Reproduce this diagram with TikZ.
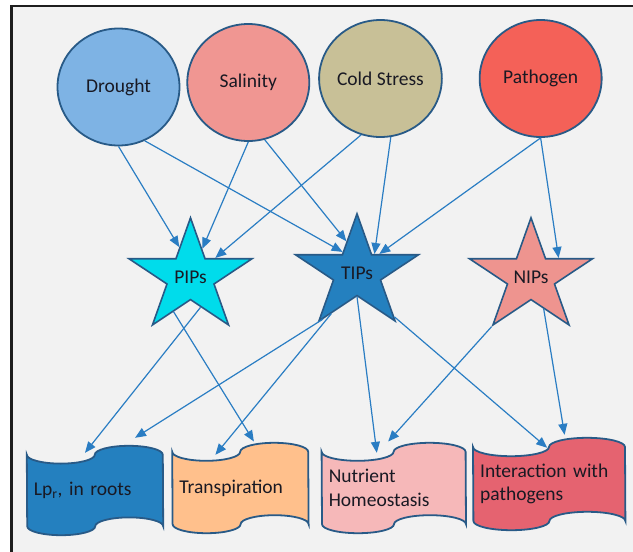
\documentclass[tikz,border=0pt]{standalone}
\usepackage{fontspec}
\setmainfont{Carlito}
\usepackage{tikz}
\usetikzlibrary{shapes.geometric, arrows.meta, positioning, calc, backgrounds}
\definecolor{edgeblue}{RGB}{40,90,135}
\definecolor{arrowblue}{RGB}{42,125,195}
\definecolor{textdark}{RGB}{25,25,35}
\definecolor{bggray}{RGB}{242,242,242}
\definecolor{framedark}{RGB}{30,30,30}
\definecolor{droughtfill}{RGB}{126,179,228}
\definecolor{salinityfill}{RGB}{240,150,146}
\definecolor{coldfill}{RGB}{200,192,151}
\definecolor{pathogenfill}{RGB}{244,97,88}
\definecolor{pipfill}{RGB}{0,220,235}
\definecolor{tipfill}{RGB}{36,128,191}
\definecolor{nipfill}{RGB}{238,148,143}
\definecolor{lpfill}{RGB}{36,128,191}
\definecolor{transfill}{RGB}{255,192,140}
\definecolor{nutrfill}{RGB}{246,184,185}
\definecolor{interfill}{RGB}{229,99,112}
\tikzset{
  stress/.style={ellipse, draw=edgeblue, line width=1.8pt,
    minimum width=122pt, minimum height=117pt, inner sep=0pt,
    font=\fontsize{19.5}{23.8}\selectfont, text=textdark},
  aqp/.style={star, star points=5, star point ratio=2.618,
    minimum size=129.4pt, inner sep=0pt, draw=edgeblue, line width=1.6pt,
    yscale=0.915, transform shape},
  aqptext/.style={font=\fontsize{19.5}{23.8}\selectfont, text=textdark, inner sep=0pt},
  tape/.style={rectangle, inner xsep=7pt, inner ysep=0pt, align=left,
    font=\fontsize{19.5}{23.8}\selectfont, text=textdark},
  tapeline/.style={draw=edgeblue, line width=1.8pt},
  frameline/.style={draw=framedark, line width=2.4pt},
  arrow/.style={-{Triangle[length=11pt, width=9pt]}, line width=1.2pt, color=arrowblue}
}
% punched-tape outline behind a tape node: #1 node, #2 fill, #3 quarter width, #4 wave height
\newcommand{\tapeshape}[4]{%
  \draw[tapeline, fill=#2] ([yshift=-#4pt]#1.north west)
    arc[start angle=180, end angle=360, x radius=#3pt, y radius=#4pt]
    arc[start angle=180, end angle=0, x radius=#3pt, y radius=#4pt]
    -- ([yshift=#4pt]#1.south east)
    arc[start angle=0, end angle=180, x radius=#3pt, y radius=#4pt]
    arc[start angle=0, end angle=-180, x radius=#3pt, y radius=#4pt]
    -- cycle;}

\begin{document}
\begin{tikzpicture}[x=1pt, y=1pt]
  \useasboundingbox (0,0) rectangle (633,-552);
  % stress factors -- top row of circles
  \node[stress, fill=droughtfill] (drought) at (118.5,-87) {Drought};
  \node[stress, fill=salinityfill, right=6pt of drought, yshift=4.5pt] (salinity) {Salinity};
  \node[stress, fill=coldfill, right=8pt of salinity, yshift=4pt] (cold) {Cold Stress};
  \node[stress, fill=pathogenfill, right=36pt of cold] (pathogen) {Pathogen};
  % aquaporin families -- middle row of stars
  \node[aqp, fill=pipfill, label={[aqptext]center:PIPs}] (pips) at (190.5,-277) {};
  \node[aqp, fill=tipfill, label={[aqptext]center:TIPs}] (tips) at (357,-273) {};
  \node[aqp, fill=nipfill, label={[aqptext]center:NIPs}] (nips) at (531,-277) {};
  % functions -- bottom row of tapes
  \node[tape, text width=122pt, minimum height=89pt] (lp) at (95,-490.5) {Lp\textsubscript{r}, in roots};
  \node[tape, text width=122pt, minimum height=90pt, right=9pt of lp, yshift=2.5pt] (trans) {Transpiration};
  \node[tape, text width=130pt, minimum height=90pt, right=13pt of trans] (nutr) {Nutrient\\Homeostasis};
  \node[tape, text width=138pt, minimum height=92pt, right=7pt of nutr, yshift=4pt] (inter) {Interaction with\\pathogens};
  \begin{scope}[on background layer]
    % panel with frame on two sides
    \fill[white] (0,0) rectangle (633,-552);
    \fill[bggray] (11.3,-6.2) rectangle (633,-552);
    \draw[frameline] (11.3,-552) |- (633,-6.2);
    \tapeshape{lp}{lpfill}{34}{8.9}
    \tapeshape{trans}{transfill}{34}{9}
    \tapeshape{nutr}{nutrfill}{36}{9}
    \tapeshape{inter}{interfill}{38}{9.2}
  \end{scope}
  % stress -> aquaporins
  \draw[arrow] (drought.270) -- (pips.109);
  \draw[arrow] (drought.296) -- (tips.122);
  \draw[arrow] (salinity.270) -- (pips.69);
  \draw[arrow] (salinity.286) -- (tips.107);
  \draw[arrow] (cold.251) -- (pips.40);
  \draw[arrow] (cold.280) -- (tips.50);
  \draw[arrow] (pathogen.270) -- (tips.43);
  \draw[arrow] (pathogen.270) -- (nips.37);
  % aquaporins -> functions
  \draw[arrow] (pips.-73) -- ($(lp.north)+(-10,-7)$);
  \draw[arrow] (pips.-114) -- ($(trans.north)+(13.5,1.3)$);
  \draw[arrow] (tips.-124) -- ($(lp.north)+(40,8)$);
  \draw[arrow] (tips.-120) -- ($(trans.north)+(-25,-12)$);
  \draw[arrow] (tips.-90) -- ($(nutr.north)+(-17,-10)$);
  \draw[arrow] (tips.-52) -- ($(inter.north)+(-2,-10)$);
  \draw[arrow] (nips.-126) -- ($(nutr.north)+(-5.6,1.3)$);
  \draw[arrow] (nips.-70) -- ($(inter.north)+(15.4,3)$);
\end{tikzpicture}
\end{document}
